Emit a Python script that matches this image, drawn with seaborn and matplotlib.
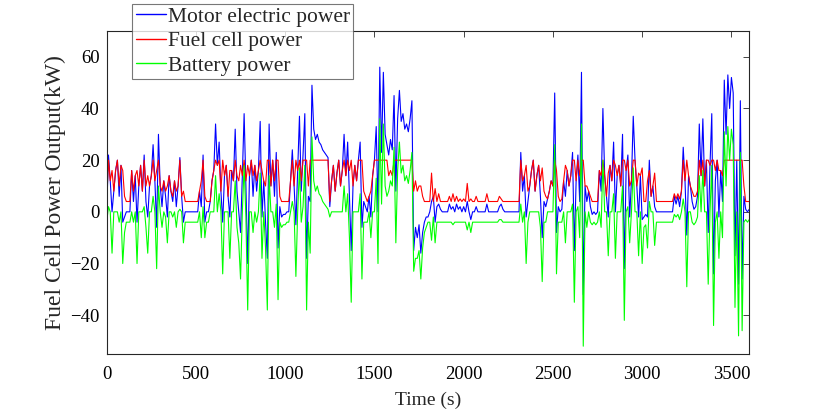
import numpy as np
import pandas as pd
import matplotlib
matplotlib.use("Agg")
import matplotlib.pyplot as plt
import seaborn as sns

time_s = np.arange(0, 3601, 10)

motor_kw = [
    0, 22, 12, 0, 8, 16, 20, 6, 18, -4, -2, 0, 0, 0, 16, 4, 14, -4, 10, 18,
    8, 22, 4, -2, 10, 14, 26, 12, -6, 30, 10, 2, 12, 6, -2, 14, 8, 4, 12, 2,
    10, 21, 6, -4, 0, 0, 0, 0, 0, 0, 0, 0, 8, 2, 22, -4, 0, 0, 4, 12,
    16, 34, 18, 27, 8, -4, 14, 18, 6, -2, 16, 12, 32, 8, 0, -8, 14, 38, 10, -20,
    14, 20, 6, 18, 8, 16, 35, -2, 12, -4, -18, 34, 10, 20, 6, 23, -14, 2, -2, -1,
    -1, 0, 0, 12, 24, 10, -5, 16, 37, 8, 22, 38, -18, 6, 4, 49, 32, 28, 30, 27,
    26, 24, 23, 22, 21, 2, 12, 18, 8, 15, 20, 10, 16, 30, 14, 27, 6, -15, 10, 18,
    12, 20, 27, -6, 4, 2, 0, 6, -2, 14, 20, 33, 0, 56, 23, 54, 30, 26, 22, 28,
    24, 45, 8, 36, 47, 35, 38, 32, 34, 31, 36, 43, -15, -6, -10, -5, -16, -8, -4, -2,
    -2, 0, 4, 6, -4, 2, 3, 1, 0, 0, 0, 0, 3, 1, 2, 0, 3, 1, 2, 0,
    2, 0, 4, 0, -3, 0, 0, 2, 0, 0, 0, 0, 0, 3, 0, 0, 0, 0, 0, 0,
    2, 3, 1, 0, 0, 0, 0, 0, 0, 0, 0, 0, 23, 8, 14, -2, 4, 10, 16, 20,
    8, 14, 18, 6, -10, 4, 2, 5, 8, 12, 10, 46, -8, 2, 0, 1, 12, 6, 16, 10,
    14, 23, -15, 12, 22, 4, 54, -32, 10, 4, 8, 2, -1, 0, -1, 0, 16, 8, 40, 14,
    6, -2, 18, 12, 27, 0, 14, 18, 10, 30, -22, 16, 22, -2, 12, 37, 20, 10, -2, 14,
    -3, -2, -1, -2, 20, 6, 10, 2, 0, 0, 0, 0, 0, 0, 0, 0, 0, 0, 6, 3,
    6, 2, 8, 25, 12, -9, 14, 10, 4, 1, 2, 6, 34, 14, 36, 10, 20, -8, 18, 38,
    -24, 12, 20, -2, 16, 4, 51, 30, 53, 40, 52, 46, -17, 20, -28, 43, -26, 6, 1, 0,
    1,
]

fuel_cell_kw = [
    4, 20, 12, 16, 8, 16, 20, 10, 18, 16, 6, 4, 4, 4, 16, 8, 14, 16, 10, 18,
    8, 20, 10, 14, 10, 14, 20, 12, 16, 20, 10, 8, 12, 8, 10, 14, 8, 6, 12, 8,
    10, 20, 6, 8, 4, 4, 4, 4, 4, 4, 4, 4, 8, 12, 20, 6, 4, 4, 4, 12,
    16, 20, 18, 20, 8, 20, 14, 18, 6, 16, 16, 12, 20, 14, 12, 18, 14, 20, 12, 18,
    14, 20, 14, 18, 12, 16, 20, 16, 12, 10, 20, 20, 10, 20, 12, 20, 20, 6, 4, 4,
    4, 4, 4, 12, 20, 10, 20, 16, 20, 12, 20, 20, 20, 10, 20, 20, 20, 20, 20, 20,
    20, 20, 20, 20, 20, 4, 12, 18, 8, 15, 20, 10, 16, 20, 14, 20, 16, 20, 10, 18,
    12, 20, 20, 20, 8, 6, 4, 6, 8, 14, 20, 20, 20, 20, 20, 20, 20, 20, 14, 16,
    14, 20, 20, 20, 20, 20, 20, 20, 20, 20, 20, 20, 8, 12, 8, 10, 10, 6, 4, 4,
    4, 4, 15, 4, 9, 4, 7, 4, 4, 4, 4, 4, 6, 4, 7, 4, 6, 4, 5, 4,
    5, 4, 11, 4, 5, 4, 4, 6, 4, 4, 4, 4, 4, 7, 4, 4, 4, 4, 4, 4,
    6, 5, 4, 4, 4, 4, 4, 4, 4, 4, 4, 4, 20, 12, 14, 18, 8, 10, 16, 20,
    8, 14, 18, 12, 17, 8, 6, 5, 8, 12, 10, 20, 16, 6, 4, 5, 12, 18, 16, 10,
    14, 20, 20, 12, 20, 14, 20, 20, 10, 10, 8, 6, 4, 4, 4, 4, 16, 14, 20, 14,
    6, 15, 18, 12, 20, 18, 14, 18, 10, 20, 20, 16, 20, 10, 12, 20, 20, 10, 15, 14,
    17, 4, 4, 12, 16, 6, 10, 15, 4, 4, 4, 4, 4, 4, 4, 4, 4, 4, 7, 5,
    7, 5, 8, 20, 12, 20, 14, 10, 8, 6, 6, 8, 20, 14, 20, 10, 20, 20, 18, 20,
    20, 16, 20, 16, 16, 14, 20, 20, 20, 20, 20, 20, 20, 20, 20, 20, 20, 10, 4, 4,
    4,
]

battery_kw = [
    -4, 2, 0, -16, 0, 0, 0, -4, 0, -20, -8, -4, -4, -4, 0, -4, 0, -20, 0, 0,
    0, 2, -6, -16, 0, 0, 6, 0, -22, 10, 0, -6, 0, -2, -12, 0, 0, -2, 0, -6,
    0, 1, 0, -12, -4, -4, -4, -4, -4, -4, -4, -4, 0, -10, 2, -10, -4, -4, 0, 0,
    0, 14, 0, 7, 0, -24, 0, 0, 0, -18, 0, 0, 12, -6, -12, -26, 0, 18, -2, -38,
    0, 0, -8, 0, -4, 0, 15, -18, 0, -14, -38, 14, 0, 0, -6, 3, -34, -4, -6, -5,
    -5, -4, -4, 0, 4, 0, -25, 0, 17, -4, 2, 18, -38, -4, -16, 29, 12, 8, 10, 7,
    6, 4, 3, 2, 1, -2, 0, 0, 0, 0, 0, 0, 0, 10, 0, 7, -10, -35, 0, 0,
    0, 0, 7, -26, -4, -4, -4, 0, -10, 0, 0, 13, -20, 36, 3, 34, 10, 6, 8, 12,
    10, 25, -12, 16, 27, 15, 18, 12, 14, 11, 16, 23, -23, -18, -18, -15, -26, -14, -8, -6,
    -4, -4, -11, -2, -12, -4, -4, -4, -4, -4, -4, -4, -4, -4, -5, -4, -4, -4, -4, -4,
    -4, -4, -7, -4, -8, -4, -4, -4, -4, -4, -4, -4, -4, -4, -4, -4, -4, -4, -4, -4,
    -3, -3, -4, -4, -4, -4, -4, -4, -4, -4, -4, -4, 3, -4, 0, -20, -4, 0, 0, 0,
    0, 0, 0, -6, -27, -4, -4, 0, 0, 0, 0, 26, -24, -4, -4, -4, 0, -12, 0, 0,
    0, 3, -35, 0, 2, -10, 34, -52, 0, -6, 0, -4, -5, -4, -5, -4, 0, -6, 20, 0,
    0, -17, 0, 0, 7, -18, 0, 0, 0, 10, -42, 0, 2, -12, 0, 17, 0, 0, -17, 0,
    -20, -6, -5, -14, 4, 0, 0, -13, -4, -4, -4, -4, -4, -4, -4, -4, -4, -4, -1, -2,
    -1, -3, 0, 5, 0, -29, 0, 0, -4, -5, -4, -2, 14, 0, 16, 0, 0, -28, 0, 18,
    -44, -4, 0, -18, 0, -10, 31, 10, 33, 20, 32, 26, -37, 0, -48, 23, -46, -4, -3, -4,
    -3,
]

df = pd.DataFrame({
    "Time": time_s,
    "Motor": motor_kw,
    "FuelCell": fuel_cell_kw,
    "Battery": battery_kw,
})

sns.set_style("white")
plt.rcParams["font.family"] = ["Liberation Serif", "DejaVu Serif"]
plt.rcParams["axes.edgecolor"] = "#262626"

fig = plt.figure(figsize=(8.27, 4.13), dpi=100)
ax = fig.add_axes([0.129, 0.143, 0.777, 0.782])

sns.lineplot(data=df, x="Time", y="Motor", color="#0000ff", lw=0.8, ax=ax,
             label="Motor electric power")
sns.lineplot(data=df, x="Time", y="FuelCell", color="#ff0000", lw=0.8, ax=ax,
             label="Fuel cell power")
sns.lineplot(data=df, x="Time", y="Battery", color="#00ff00", lw=0.8, ax=ax,
             label="Battery power")

ax.set_xlim(0, 3600)
ax.set_ylim(-55, 70)
ax.set_xticks(range(0, 3501, 500))
ax.set_yticks(range(-40, 61, 20))
ax.tick_params(direction="in", length=4, width=0.6, top=True, right=True,
               labelsize=13.5, colors="#262626")
ax.tick_params(axis="x", pad=9)
ax.tick_params(axis="y", pad=5)
for lab in ax.get_xticklabels() + ax.get_yticklabels():
    lab.set_color("black")
for sp in ax.spines.values():
    sp.set_linewidth(0.8)

ax.set_xlabel("Time (s)", fontsize=14, labelpad=6)
ax.set_ylabel("Fuel Cell Power Output(kW)", fontsize=17, labelpad=3)

leg = ax.legend(loc="upper left", bbox_to_anchor=(0.04, 1.085), fontsize=15.5,
                frameon=True, fancybox=False, handlelength=1.4,
                handletextpad=0.1, labelspacing=0.2, borderpad=0.15,
                borderaxespad=0)
leg.get_frame().set_edgecolor("#555555")
leg.get_frame().set_linewidth(0.8)
for line in leg.get_lines():
    line.set_linewidth(1.0)

fig.savefig("out.png", dpi=100)
